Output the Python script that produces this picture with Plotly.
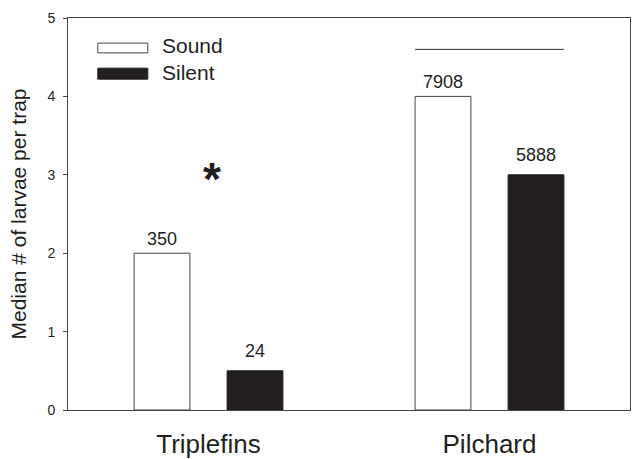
import plotly.graph_objects as go

# Median larvae per trap by taxon and treatment
categories = ["Triplefins", "Pilchard"]
sound_vals = [2.0, 4.0]
silent_vals = [0.5, 3.0]
sound_counts = ["350", "7908"]
silent_counts = ["24", "5888"]
y_ticks = [0, 1, 2, 3, 4, 5]

FONT = "Liberation Sans, Arial, sans-serif"
INK = "#231f20"
BARGAP = 0.338
BARGROUPGAP = 0.4
slot = (1 - BARGAP) / 2
bw = slot * (1 - BARGROUPGAP)

fig = go.Figure()
fig.add_trace(go.Bar(
    x=categories, y=sound_vals, name="Sound",
    marker=dict(color="white", line=dict(color="#444444", width=1)),
    showlegend=False,
))
fig.add_trace(go.Bar(
    x=categories, y=silent_vals, name="Silent",
    marker=dict(color=INK, line=dict(color=INK, width=1)),
    showlegend=False,
))

annotations = []
# total counts above each bar
for i, (sv, sc, qv, qc) in enumerate(zip(sound_vals, sound_counts, silent_vals, silent_counts)):
    annotations.append(dict(x=i - slot / 2, y=sv, text=sc, showarrow=False,
                            yanchor="bottom", yshift=2, font=dict(size=18, color=INK)))
    annotations.append(dict(x=i + slot / 2, y=qv, text=qc, showarrow=False,
                            yanchor="bottom", yshift=8, font=dict(size=18, color=INK)))

# significance marker for triplefins
annotations.append(dict(x=0, y=2.95, text="<b>*</b>", showarrow=False, xshift=3,
                        yanchor="middle", font=dict(size=46, color=INK)))

# legend drawn as wide swatches
annotations.append(dict(xref="paper", yref="paper", x=0.163, y=0.930, text="Sound",
                        showarrow=False, xanchor="left", yanchor="middle",
                        font=dict(size=21, color=INK)))
annotations.append(dict(xref="paper", yref="paper", x=0.163, y=0.862, text="Silent",
                        showarrow=False, xanchor="left", yanchor="middle",
                        font=dict(size=21, color=INK)))

shapes = [
    dict(type="rect", xref="paper", yref="paper", x0=0.053, x1=0.142, y0=0.911, y1=0.936,
         fillcolor="white", line=dict(color="#444", width=1)),
    dict(type="rect", xref="paper", yref="paper", x0=0.053, x1=0.142, y0=0.844, y1=0.872,
         fillcolor=INK, line=dict(color=INK, width=1)),
    # non-significant comparison line over pilchard
    dict(type="line", xref="x", yref="y",
         x0=1 - slot / 2 - bw / 2, x1=1 + slot / 2 + bw / 2, y0=4.6, y1=4.6,
         line=dict(color="#333", width=1)),
]

fig.update_layout(
    width=632, height=459,
    margin=dict(l=68, r=2, t=18, b=49),
    paper_bgcolor="white", plot_bgcolor="white",
    barmode="group", bargap=BARGAP, bargroupgap=BARGROUPGAP,
    font=dict(family=FONT, color=INK),
    annotations=annotations, shapes=shapes,
)
fig.update_xaxes(
    type="category", range=[-0.5, 1.5], automargin=False,
    showline=True, linecolor="#444", linewidth=1, mirror=True,
    ticks="", showgrid=False, tickfont=dict(size=26, color=INK),
    ticklabelstandoff=11,
)
fig.update_yaxes(
    range=[0, 5], tickvals=y_ticks, ticktext=[str(v) for v in y_ticks], automargin=False,
    showline=True, linecolor="#444", linewidth=1, mirror=True,
    ticks="outside", ticklen=4, tickcolor="#444", showgrid=False, zeroline=False,
    tickfont=dict(size=14, color=INK), ticklabelstandoff=5,
    title=dict(text="Median # of larvae per trap", font=dict(size=21, color=INK), standoff=15),
)

fig.write_html("out.html")
